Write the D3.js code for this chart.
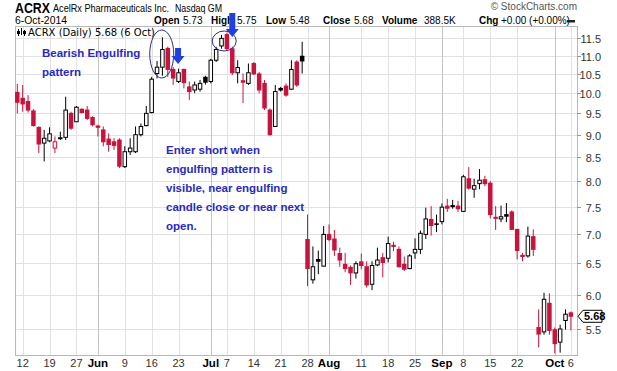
<!DOCTYPE html>
<html>
<head>
<meta charset="utf-8">
<script src="https://cdn.jsdelivr.net/npm/d3@7"></script>
<style>
  body { margin: 0; background: #fff; }
  svg text { font-family: "Liberation Sans", Arial, sans-serif; }
</style>
</head>
<body>
<svg id="chart" width="617" height="371"></svg>
<script>
// trading days, May 9 - Oct 6 2014
const dates = [
  "2014-05-09",
  "2014-05-12","2014-05-13","2014-05-14","2014-05-15","2014-05-16",
  "2014-05-19","2014-05-20","2014-05-21","2014-05-22","2014-05-23",
  "2014-05-27","2014-05-28","2014-05-29","2014-05-30",
  "2014-06-02","2014-06-03","2014-06-04","2014-06-05","2014-06-06",
  "2014-06-09","2014-06-10","2014-06-11","2014-06-12","2014-06-13",
  "2014-06-16","2014-06-17","2014-06-18","2014-06-19","2014-06-20",
  "2014-06-23","2014-06-24","2014-06-25","2014-06-26","2014-06-27",
  "2014-06-30","2014-07-01","2014-07-02","2014-07-03",
  "2014-07-07","2014-07-08","2014-07-09","2014-07-10","2014-07-11",
  "2014-07-14","2014-07-15","2014-07-16","2014-07-17","2014-07-18",
  "2014-07-21","2014-07-22","2014-07-23","2014-07-24","2014-07-25",
  "2014-07-28","2014-07-29","2014-07-30","2014-07-31","2014-08-01",
  "2014-08-04","2014-08-05","2014-08-06","2014-08-07","2014-08-08",
  "2014-08-11","2014-08-12","2014-08-13","2014-08-14","2014-08-15",
  "2014-08-18","2014-08-19","2014-08-20","2014-08-21","2014-08-22",
  "2014-08-25","2014-08-26","2014-08-27","2014-08-28","2014-08-29",
  "2014-09-02","2014-09-03","2014-09-04","2014-09-05",
  "2014-09-08","2014-09-09","2014-09-10","2014-09-11","2014-09-12",
  "2014-09-15","2014-09-16","2014-09-17","2014-09-18","2014-09-19",
  "2014-09-22","2014-09-23","2014-09-24","2014-09-25","2014-09-26",
  "2014-09-29","2014-09-30","2014-10-01","2014-10-02","2014-10-03",
  "2014-10-06"
];

const opens = [
  10.02,
  9.87, 9.79, 9.56, 9.17, 8.81,
  8.86, 8.70, 8.93, 8.94, 9.50,
  9.30, 9.60, 9.58, 9.40,
  9.20, 9.11, 8.90, 8.84, 8.88,
  8.30, 8.62, 8.62, 9.00, 9.21,
  9.52, 10.51, 10.68, 11.20, 10.62,
  10.30, 10.62, 10.16, 10.08, 10.10,
  10.41, 10.30, 10.87, 11.27,
  11.60, 11.19, 10.53, 10.32, 10.25,
  10.78, 10.50, 10.25, 9.58, 9.19,
  10.12, 10.18, 10.10, 10.82, 10.98,
  6.90, 6.23, 6.56, 6.45, 6.99,
  6.91, 6.66, 6.48, 6.43, 6.34,
  6.52, 6.44, 6.16, 6.47, 6.59,
  6.58, 6.80, 6.73, 6.48, 6.41,
  6.67, 6.73, 6.99, 7.26, 7.18,
  7.22, 7.51, 7.52, 7.51,
  7.41, 8.05, 7.84, 7.95, 8.03,
  7.96, 7.30, 7.27, 7.35, 7.40,
  7.08, 6.63, 6.62, 6.95, 5.52,
  5.46, 5.87, 5.49, 5.32, 5.62,
  5.73
];

const highs = [
  10.24,
  10.21, 9.95, 9.60, 9.19, 9.11,
  9.17, 8.96, 9.07, 9.91, 9.54,
  9.68, 9.62, 9.68, 9.43,
  9.23, 9.19, 9.03, 8.92, 8.92,
  8.74, 8.92, 9.19, 9.26, 9.68,
  10.42, 10.85, 11.52, 11.25, 10.68,
  10.64, 10.64, 10.30, 10.30, 10.34,
  10.45, 10.91, 11.25, 11.59,
  11.66, 11.25, 10.87, 10.51, 10.78,
  10.82, 10.55, 10.34, 9.62, 10.21,
  10.16, 10.25, 10.87, 10.87, 11.39,
  7.35, 6.78, 6.71, 7.14, 7.17,
  7.07, 6.76, 6.67, 6.46, 6.53,
  6.66, 6.53, 6.53, 6.76, 6.67,
  6.95, 6.86, 6.78, 6.61, 6.65,
  6.92, 7.06, 7.48, 7.51, 7.35,
  7.56, 7.65, 7.63, 7.61,
  8.13, 8.29, 8.05, 8.25, 8.11,
  8.00, 7.51, 7.52, 7.57, 7.43,
  7.08, 6.67, 7.13, 7.08, 5.78,
  6.03, 6.02, 5.52, 5.56, 5.78,
  5.75
];

const lows = [
  9.50,
  9.54, 9.52, 9.19, 8.59, 8.41,
  8.83, 8.59, 8.88, 8.88, 9.11,
  9.30, 9.50, 9.34, 9.19,
  8.96, 8.74, 8.62, 8.66, 8.27,
  8.27, 8.55, 8.59, 8.96, 9.19,
  9.50, 10.38, 10.45, 10.42, 10.21,
  10.26, 10.12, 9.83, 10.00, 10.04,
  10.22, 10.25, 10.82, 11.19,
  11.16, 10.47, 10.25, 9.75, 10.21,
  10.47, 10.00, 9.58, 8.98, 9.19,
  10.04, 9.91, 10.08, 10.16, 10.51,
  6.13, 6.17, 6.32, 6.44, 6.87,
  6.62, 6.44, 6.35, 6.15, 6.25,
  6.40, 6.11, 6.07, 6.45, 6.27,
  6.51, 6.70, 6.43, 6.37, 6.40,
  6.57, 6.65, 6.91, 6.97, 7.03,
  7.17, 7.40, 7.46, 7.40,
  7.40, 7.83, 7.67, 7.84, 7.90,
  7.28, 7.07, 7.21, 7.21, 7.07,
  6.56, 6.53, 6.59, 6.62, 5.25,
  5.42, 5.42, 5.17, 5.18, 5.49,
  5.48
];

const closes = [
  9.77,
  9.73, 9.58, 9.21, 8.79, 8.92,
  9.02, 8.84, 8.91, 9.58, 9.15,
  9.65, 9.52, 9.38, 9.23,
  9.17, 8.84, 8.78, 8.76, 8.31,
  8.62, 8.70, 9.00, 9.19, 9.50,
  10.36, 10.68, 11.17, 10.62, 10.39,
  10.53, 10.27, 10.04, 10.21, 10.25,
  10.28, 10.87, 11.17, 11.49,
  11.19, 10.53, 10.67, 10.28, 10.53,
  10.50, 10.08, 9.63, 9.00, 10.04,
  10.08, 9.95, 10.62, 10.21, 10.85,
  6.41, 6.44, 6.53, 6.99, 6.90,
  6.72, 6.55, 6.41, 6.34, 6.49,
  6.46, 6.15, 6.46, 6.55, 6.51,
  6.83, 6.78, 6.44, 6.40, 6.62,
  6.73, 7.01, 7.27, 7.15, 7.17,
  7.49, 7.47, 7.50, 7.46,
  8.09, 7.86, 7.91, 8.02, 7.95,
  7.35, 7.28, 7.31, 7.32, 7.08,
  6.71, 6.61, 6.96, 6.73, 5.43,
  5.93, 5.48, 5.30, 5.50, 5.71,
  5.68
];

const priceTicks = [5.5, 6.0, 6.5, 7.0, 7.5, 8.0, 8.5, 9.0, 9.5, 10.0, 10.5, 11.0, 11.5];
const weekTicks = ["2014-05-12","2014-05-19","2014-05-27","2014-06-09","2014-06-16","2014-06-23",
  "2014-07-07","2014-07-14","2014-07-21","2014-07-28","2014-08-11","2014-08-18","2014-08-25",
  "2014-09-08","2014-09-15","2014-09-22","2014-10-06"];
const monthTicks = ["2014-06-02","2014-07-01","2014-08-01","2014-09-02","2014-10-01"];

const RED = "#c8143c";
const BLUE = "#2a2ac0";

const svg = d3.select("#chart");
const plot = { left: 15, right: 577, top: 26, bottom: 355 };

const x = d3.scalePoint().domain(dates).range([17.3, 570.9]);
const y = d3.scaleLog().domain([5.5, 11.5]).range([329, 38]);

const bars = dates.map((d, i) => ({
  date: d, o: opens[i], h: highs[i], l: lows[i], c: closes[i],
  prev: i > 0 ? closes[i - 1] : opens[i] + 1
}));

// ---- header ----
svg.append("text").attr("x", 15).attr("y", 13)
  .attr("textLength", 35).attr("lengthAdjust", "spacingAndGlyphs")
  .style("font-size", "14px").style("font-weight", "bold").text("ACRX");
svg.append("text").attr("x", 53).attr("y", 12)
  .attr("textLength", 116).attr("lengthAdjust", "spacingAndGlyphs")
  .style("font-size", "10px").text("AcelRx Pharmaceuticals Inc.");
svg.append("text").attr("x", 175).attr("y", 12)
  .attr("textLength", 47).attr("lengthAdjust", "spacingAndGlyphs")
  .style("font-size", "10px").text("Nasdaq GM");
svg.append("text").attr("x", 15).attr("y", 24)
  .attr("textLength", 52).attr("lengthAdjust", "spacingAndGlyphs")
  .style("font-size", "10px").text("6-Oct-2014");
svg.append("text").attr("x", 577).attr("y", 10).attr("text-anchor", "end")
  .style("font-size", "10px").style("fill", "#555").text("© StockCharts.com");

// OHLC line: label / value pairs, each with its x start
const info = svg.append("g");
[["Open", 154, 183, "5.73"], ["High", 211, 237, "5.75"], ["Low", 266, 290, "5.48"],
 ["Close", 323, 354, "5.68"], ["Volume", 382, 424, "388.5K"], ["Chg", 479, 501, "+0.00 (+0.00%)"]]
  .forEach(([k, kx, vx, v]) => {
    info.append("text").attr("x", kx).attr("y", 24)
      .style("font-size", "10px").style("font-weight", "bold").text(k);
    info.append("text").attr("x", vx).attr("y", 24)
      .style("font-size", "10px").text(v);
  });
svg.append("rect").attr("x", 567).attr("y", 20).attr("width", 8).attr("height", 2.5).attr("fill", "#222");

// ---- grid ----
const grid = svg.append("g");
grid.selectAll(".hg").data(priceTicks).join("line")
  .attr("x1", plot.left).attr("x2", plot.right)
  .attr("y1", d => Math.round(y(d)) + 0.5).attr("y2", d => Math.round(y(d)) + 0.5)
  .attr("stroke", "#e2e2e2");
grid.selectAll(".wg").data(weekTicks).join("line")
  .attr("x1", d => Math.round(x(d)) + 0.5).attr("x2", d => Math.round(x(d)) + 0.5)
  .attr("y1", plot.top).attr("y2", plot.bottom)
  .attr("stroke", "#e2e2e2");
grid.selectAll(".mg").data(monthTicks).join("line")
  .attr("x1", d => Math.round(x(d)) + 0.5).attr("x2", d => Math.round(x(d)) + 0.5)
  .attr("y1", plot.top).attr("y2", plot.bottom)
  .attr("stroke", "#c4c4c4");

svg.append("rect")
  .attr("x", plot.left + 0.5).attr("y", plot.top + 0.5)
  .attr("width", plot.right - plot.left).attr("height", plot.bottom - plot.top)
  .attr("fill", "none").attr("stroke", "#b8b8b8");

// ---- axes labels ----
const yAx = svg.append("g");
priceTicks.forEach(p => {
  const yy = Math.round(y(p)) + 0.5;
  yAx.append("line").attr("x1", plot.right).attr("x2", plot.right + 4)
    .attr("y1", yy).attr("y2", yy).attr("stroke", "#999");
  yAx.append("text").attr("x", 601).attr("y", yy + 4).attr("text-anchor", "end")
    .style("font-size", "11px").style("fill", "#333").text(p.toFixed(1));
});

const xAx = svg.append("g");
weekTicks.forEach(d => {
  xAx.append("text").attr("x", x(d)).attr("y", 367).attr("text-anchor", "middle")
    .style("font-size", "11px").style("fill", "#333").text(+d.slice(8));
});
const monthFmt = d3.timeFormat("%b"), parse = d3.timeParse("%Y-%m-%d");
monthTicks.forEach(d => {
  xAx.append("text").attr("x", x(d)).attr("y", 367).attr("text-anchor", "middle")
    .style("font-size", "11.5px").style("font-weight", "bold").text(monthFmt(parse(d)));
});

// ---- candles ----
const candles = svg.append("g");
bars.forEach(b => {
  const cx = x(b.date);
  const up = b.c >= b.o;
  const red = b.c < b.prev;
  const col = red ? RED : "#000";
  candles.append("line").attr("x1", cx).attr("x2", cx)
    .attr("y1", y(b.h)).attr("y2", y(b.l))
    .attr("stroke", col).attr("stroke-width", 1);
  const top = y(Math.max(b.o, b.c)), bot = y(Math.min(b.o, b.c));
  if (up) {
    candles.append("rect").attr("x", cx - 1.75).attr("y", top)
      .attr("width", 3.5).attr("height", Math.max(1, bot - top))
      .attr("fill", "#fff").attr("stroke", col).attr("stroke-width", 1);
  } else {
    candles.append("rect").attr("x", cx - 2.25).attr("y", top - 0.5)
      .attr("width", 4.5).attr("height", Math.max(1.5, bot - top + 1))
      .attr("fill", col);
  }
});

// ---- in-plot legend ----
const leg = svg.append("g");
[[18, 29, 36], [21, 28, 35], [24, 30, 36]].forEach(([lx, y1, y2]) => {
  leg.append("line").attr("x1", lx + 0.5).attr("x2", lx + 0.5).attr("y1", y1).attr("y2", y2)
    .attr("stroke", "#000");
});
leg.append("rect").attr("x", 17).attr("y", 31).attr("width", 3).attr("height", 3).attr("fill", "#000");
leg.append("rect").attr("x", 23).attr("y", 31).attr("width", 3).attr("height", 3).attr("fill", "#000");
leg.append("text").attr("x", 28).attr("y", 36)
  .style("font-family", "DejaVu Sans").style("font-size", "10px")
  .text("ACRX (Daily) 5.68 (6 Oct)");

// ---- last price marker ----
const ly = y(closes[closes.length - 1]);
svg.append("path")
  .attr("d", `M578,${ly} L583,${ly - 6} L602,${ly - 6} L602,${ly + 6} L583,${ly + 6} Z`)
  .attr("fill", "#fff").attr("stroke", "#000");
svg.append("text").attr("x", 584).attr("y", ly + 4)
  .style("font-size", "11px").style("font-weight", "bold").text("5.68");

// ---- annotations ----
const ann = svg.append("g");
ann.append("ellipse").attr("cx", (x("2014-06-17") + x("2014-06-18")) / 2 + 2).attr("cy", 54)
  .attr("rx", 12).attr("ry", 24).attr("fill", "none").attr("stroke", "#2c2c8c");
ann.append("ellipse").attr("cx", (x("2014-07-03") + x("2014-07-07")) / 2).attr("cy", 41)
  .attr("rx", 12).attr("ry", 10).attr("fill", "none").attr("stroke", "#2c2c8c");

function arrow(cx, yTop, yTip) {
  const yHead = yTip - 8;
  ann.append("path")
    .attr("d", `M${cx - 3},${yTop} L${cx + 3},${yTop} L${cx + 3},${yHead} L${cx + 6.5},${yHead} L${cx},${yTip} L${cx - 6.5},${yHead} L${cx - 3},${yHead} Z`)
    .attr("fill", "#1f3fe0");
}
arrow(x("2014-06-23") - 0.5, 48, 64);
arrow(x("2014-07-08"), 13, 37);

const txt = (t, tx, ty) => ann.append("text").attr("x", tx).attr("y", ty)
  .style("font-size", "11.5px").style("font-weight", "bold").style("fill", BLUE).text(t);
txt("Bearish Engulfing", 42, 57);
txt("pattern", 42, 76);
["Enter short when", "engulfing pattern is", "visible, near engulfing",
 "candle close or near next", "open."].forEach((t, i) => txt(t, 166, 154 + i * 19));
</script>
</body>
</html>
